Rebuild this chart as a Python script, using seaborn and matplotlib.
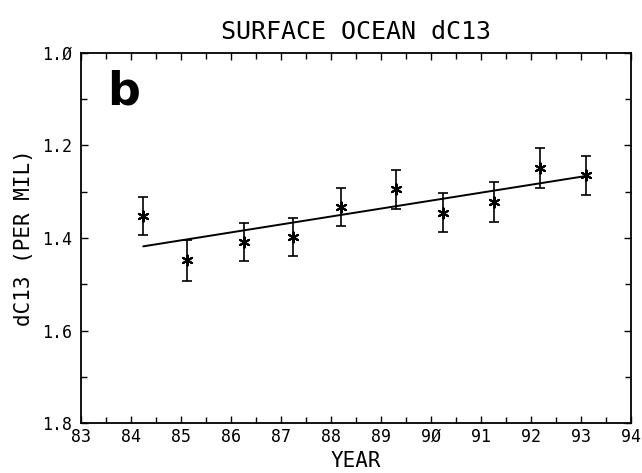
import matplotlib
matplotlib.use("Agg")
import matplotlib.pyplot as plt
import pandas as pd
import seaborn as sns
from matplotlib.ticker import MultipleLocator

years = [84.25, 85.13, 86.27, 87.24, 88.20, 89.31, 90.25, 91.26, 92.19, 93.11]
dc13 = [1.352, 1.448, 1.409, 1.398, 1.334, 1.295, 1.345, 1.323, 1.249, 1.265]
dc13_err = [0.041, 0.044, 0.041, 0.041, 0.041, 0.042, 0.042, 0.043, 0.043, 0.043]

# linear fit drawn through the points
fit_years = [84.25, 93.11]
fit_dc13 = [1.418, 1.266]

x_ticks = list(range(83, 95))
x_labels = [str(v).replace("0", "Ø") for v in x_ticks]
y_ticks = [1.0, 1.2, 1.4, 1.6, 1.8]
y_labels = ["1.Ø", "1.2", "1.4", "1.6", "1.8"]

sns.set_style("ticks")
plt.rcParams["font.family"] = ["DejaVu Sans Mono", "DejaVu Sans"]
plt.rcParams["text.color"] = "black"
plt.rcParams["axes.labelcolor"] = "black"
plt.rcParams["xtick.color"] = "black"
plt.rcParams["ytick.color"] = "black"
plt.rcParams["xtick.direction"] = "in"
plt.rcParams["ytick.direction"] = "in"

obs = pd.DataFrame({"year": years, "dc13": dc13, "err": dc13_err})
fit = pd.DataFrame({"year": fit_years, "dc13": fit_dc13})

fig = plt.figure(figsize=(6.42, 4.73), dpi=100)
ax = fig.add_axes([0.1257, 0.105, 0.857, 0.7836])

ax.errorbar(obs["year"], obs["dc13"], yerr=obs["err"], fmt="none",
            ecolor="black", elinewidth=1.2, capsize=3.5, capthick=1.2)
sns.lineplot(data=fit, x="year", y="dc13", color="black", linewidth=1.4, ax=ax)
sns.scatterplot(data=obs, x="year", y="dc13", marker=(6, 2, 0), s=55,
                color="black", linewidth=1.5, edgecolor="black", ax=ax, zorder=3)

ax.set_xlim(83, 94)
ax.set_ylim(1.8, 1.0)
ax.set_xticks(x_ticks)
ax.set_xticklabels(x_labels, fontsize=12)
ax.set_yticks(y_ticks)
ax.set_yticklabels(y_labels, fontsize=12)
ax.xaxis.set_minor_locator(MultipleLocator(0.5))
ax.yaxis.set_minor_locator(MultipleLocator(0.1))
ax.tick_params(which="both", top=True, right=True, width=1.0)
ax.tick_params(axis="x", which="major", length=5, pad=3)
ax.tick_params(axis="y", which="major", length=5, pad=6)
ax.tick_params(which="minor", length=4)
for spine in ax.spines.values():
    spine.set_visible(True)
    spine.set_linewidth(1.3)
    spine.set_color("black")

ax.set_xlabel("YEAR", fontsize=15, labelpad=4)
ax.set_ylabel("dC13 (PER MIL)", fontsize=15, labelpad=6)
ax.set_title("SURFACE OCEAN dC13", fontsize=18, pad=10)
ax.text(0.048, 0.956, "b", transform=ax.transAxes, fontsize=33, fontweight="bold",
        family="DejaVu Sans", va="top", ha="left")

fig.savefig("out.png", dpi=100)
